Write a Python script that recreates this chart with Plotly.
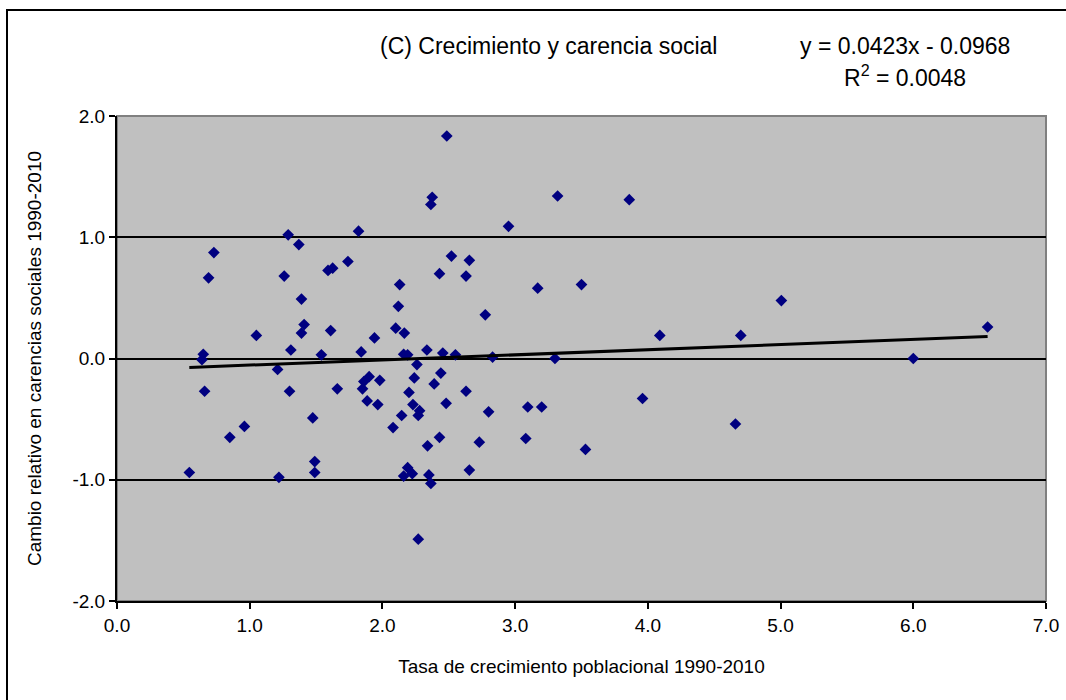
import plotly.graph_objects as go

# Data
tasa_crecimiento = [
    0.545, 0.64, 0.65, 0.66, 0.69, 0.73, 0.85, 0.96, 1.05, 1.21,
    1.22, 1.26, 1.29, 1.30, 1.31, 1.37, 1.39, 1.39, 1.41, 1.475,
    1.49, 1.49, 1.54, 1.59, 1.625, 1.61, 1.66, 1.74, 1.82, 1.84,
    1.85, 1.86, 1.885, 1.90, 1.94, 1.965, 1.98, 2.08, 2.10, 2.12,
    2.13, 2.145, 2.16, 2.165, 2.16, 2.19, 2.19, 2.20, 2.225, 2.23,
    2.24, 2.26, 2.27, 2.28, 2.27, 2.335, 2.34, 2.35, 2.365, 2.365,
    2.375, 2.39, 2.43, 2.43, 2.44, 2.455, 2.48, 2.485, 2.52, 2.55,
    2.63, 2.63, 2.655, 2.655, 2.73, 2.775, 2.80, 2.83, 2.95, 3.08,
    3.095, 3.17, 3.20, 3.30, 3.32, 3.50, 3.53, 3.86, 3.96, 4.09,
    4.66, 4.70, 5.006, 6.00, 6.56,
]
cambio_carencias = [
    -0.94, -0.01, 0.035, -0.27, 0.665, 0.874, -0.65, -0.56, 0.19, -0.09,
    -0.98, 0.68, 1.02, -0.27, 0.07, 0.94, 0.49, 0.21, 0.28, -0.49,
    -0.85, -0.94, 0.03, 0.726, 0.745, 0.23, -0.25, 0.80, 1.05, 0.054,
    -0.25, -0.19, -0.35, -0.15, 0.17, -0.38, -0.18, -0.57, 0.25, 0.43,
    0.61, -0.47, 0.035, 0.21, -0.97, 0.03, -0.90, -0.28, -0.95, -0.38,
    -0.16, -0.05, -0.47, -0.43, -1.49, 0.07, -0.72, -0.96, -1.03, 1.27,
    1.33, -0.21, 0.70, -0.65, -0.12, 0.045, -0.37, 1.835, 0.845, 0.03,
    0.68, -0.27, 0.81, -0.92, -0.69, 0.36, -0.44, 0.012, 1.09, -0.66,
    -0.40, 0.58, -0.40, 0.0, 1.34, 0.61, -0.75, 1.31, -0.33, 0.19,
    -0.54, 0.19, 0.478, 0.0, 0.26,
]

# Linear trend reported on the chart
pendiente = 0.0423
intercepto = -0.0968
r_cuadrado = 0.0048

x_ticks = [0, 1, 2, 3, 4, 5, 6, 7]
y_ticks = [-2, -1, 0, 1, 2]

titulo = "(C) Crecimiento y carencia social"
titulo_x = "Tasa de crecimiento poblacional 1990-2010"
titulo_y = "Cambio relativo en carencias sociales 1990-2010"

FONT = "Liberation Sans, Arial, sans-serif"

x_min, x_max = min(tasa_crecimiento), max(tasa_crecimiento)
trend_x = [x_min, x_max]
trend_y = [pendiente * v + intercepto for v in trend_x]

fig = go.Figure()
fig.add_trace(go.Scatter(
    x=tasa_crecimiento, y=cambio_carencias, mode="markers",
    marker=dict(symbol="diamond", size=9, color="#000080", line=dict(width=0)),
    showlegend=False, cliponaxis=False,
))
fig.add_trace(go.Scatter(
    x=trend_x, y=trend_y, mode="lines",
    line=dict(color="black", width=3), showlegend=False,
))

W, H = 1066, 700
L, R, T, B = 117, 20, 116, 99
pw, ph = W - L - R, H - T - B


def px_x(p):
    return (p - L) / pw


def px_y(p):
    return (H - B - p) / ph


fig.update_layout(
    width=W, height=H,
    margin=dict(l=L, r=R, t=T, b=B, pad=0, autoexpand=False),
    paper_bgcolor="white", plot_bgcolor="#C0C0C0",
    font=dict(family=FONT, size=19, color="black"),
    xaxis=dict(
        range=[0, 7], tickvals=x_ticks, ticktext=[f"{v:.1f}" for v in x_ticks],
        showgrid=False, zeroline=False, showline=True, linecolor="black", linewidth=2,
        ticks="outside", ticklen=6, tickcolor="black", tickwidth=2,
        tickfont=dict(size=19), automargin=False,
        title=dict(text=titulo_x, font=dict(size=19), standoff=25),
    ),
    yaxis=dict(
        range=[-2, 2], tickvals=y_ticks, ticktext=[f"{v:.1f}" for v in y_ticks],
        showgrid=True, gridcolor="black", gridwidth=2,
        zeroline=False, showline=True, linecolor="black", linewidth=2,
        ticks="outside", ticklen=6, tickcolor="black", tickwidth=2,
        tickfont=dict(size=19), automargin=False,
        title=dict(text=titulo_y, font=dict(size=19), standoff=26),
    ),
    shapes=[
        dict(type="rect", xref="paper", yref="paper", x0=0, x1=1, y0=0, y1=1,
             line=dict(color="#808080", width=2), layer="below"),
        dict(type="rect", xref="paper", yref="paper",
             x0=px_x(7), x1=px_x(1080), y0=px_y(715), y1=px_y(10),
             line=dict(color="black", width=2), fillcolor="rgba(0,0,0,0)"),
    ],
    annotations=[
        dict(text=titulo, xref="paper", yref="paper", x=px_x(548), y=px_y(46),
             showarrow=False, font=dict(size=23), xanchor="center", yanchor="middle"),
        dict(text=f"y = {pendiente:.4f}x - {abs(intercepto):.4f}", xref="paper", yref="paper",
             x=px_x(905), y=px_y(46), showarrow=False, font=dict(size=23),
             xanchor="center", yanchor="middle"),
        dict(text=f"R<sup>2</sup> = {r_cuadrado:.4f}", xref="paper", yref="paper",
             x=px_x(905), y=px_y(76), showarrow=False, font=dict(size=23),
             xanchor="center", yanchor="middle"),
    ],
)

fig.write_html(
    "out.html",
    config={"displayModeBar": False},
    post_script="document.body.style.margin='0';document.body.style.overflow='hidden';",
)
